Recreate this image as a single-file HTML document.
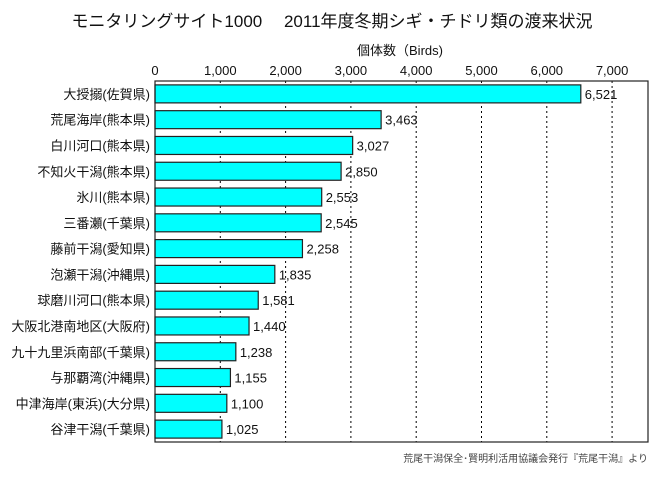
<!DOCTYPE html>
<html><head><meta charset="utf-8">
<style>
body{margin:0;background:#fff;width:665px;height:472px;overflow:hidden;font-family:"Liberation Sans","Noto Sans CJK JP",sans-serif;}
svg text{font-family:"Liberation Sans","Noto Sans CJK JP",sans-serif;}
</style></head><body>
<svg id="chart" width="665" height="472">
<text x="332" y="27" font-size="17" text-anchor="middle" fill="#111">モニタリングサイト1000　 2011年度冬期シギ・チドリ類の渡来状況</text>
<text x="400" y="55" font-size="13" text-anchor="middle" fill="#111">個体数（Birds)</text>
<text x="648" y="462" font-size="10" text-anchor="end" fill="#444" font-family="Liberation Serif,Noto Serif CJK SC,serif">荒尾干潟保全･賢明利活用協議会発行『荒尾干潟』より</text>
<g id="grid"></g><g id="bars"></g><g id="labels"></g>
<rect x="155" y="81" width="493" height="361" fill="none" stroke="#222" stroke-width="1.2"/>
</svg>
<script>
const categories=["大授搦(佐賀県)","荒尾海岸(熊本県)","白川河口(熊本県)","不知火干潟(熊本県)","氷川(熊本県)","三番瀬(千葉県)","藤前干潟(愛知県)","泡瀬干潟(沖縄県)","球磨川河口(熊本県)","大阪北港南地区(大阪府)","九十九里浜南部(千葉県)","与那覇湾(沖縄県)","中津海岸(東浜)(大分県)","谷津干潟(千葉県)"];
const values=[6521,3463,3027,2850,2553,2545,2258,1835,1581,1440,1238,1155,1100,1025];
const ticks=[0,1000,2000,3000,4000,5000,6000,7000];
const ns="http://www.w3.org/2000/svg";
const L=155,R=648,T=81,B=442,MAX=7550;
const x=v=>L+v/MAX*(R-L);
const band=(B-T)/categories.length;
const y=i=>T+i*band;
const fmt=v=>v.toLocaleString("en-US");
function mk(tag,a,parent){const e=document.createElementNS(ns,tag);for(const k in a)e.setAttribute(k,a[k]);document.getElementById(parent).appendChild(e);return e;}
ticks.forEach(t=>{
  if(t>0){const g=mk("line",{x1:x(t),x2:x(t),y1:T,y2:B,stroke:"#000","stroke-width":1,"stroke-dasharray":"2,3"},"grid");
  
  }
  const tl=mk("text",{x:x(t),y:75,"font-size":13,"text-anchor":"middle",fill:"#111"},"grid");
  tl.textContent=fmt(t);
  
  
});
categories.forEach((c,i)=>{
  const bh=18,by=y(i)+(band-bh)/2;
  const r=mk("rect",{x:L,y:by,width:x(values[i])-L,height:bh,fill:"#00ffff",stroke:"#222","stroke-width":1.2},"bars");
  
  
  const vl=mk("text",{x:x(values[i])+4,y:by+14,"font-size":13,fill:"#111"},"labels");
  vl.textContent=fmt(values[i]);
  
  
  const cl=mk("text",{x:150,y:by+14,"font-size":13,"text-anchor":"end",fill:"#111"},"labels");
  cl.textContent=c;
  
  
});
</script>
</body></html>
